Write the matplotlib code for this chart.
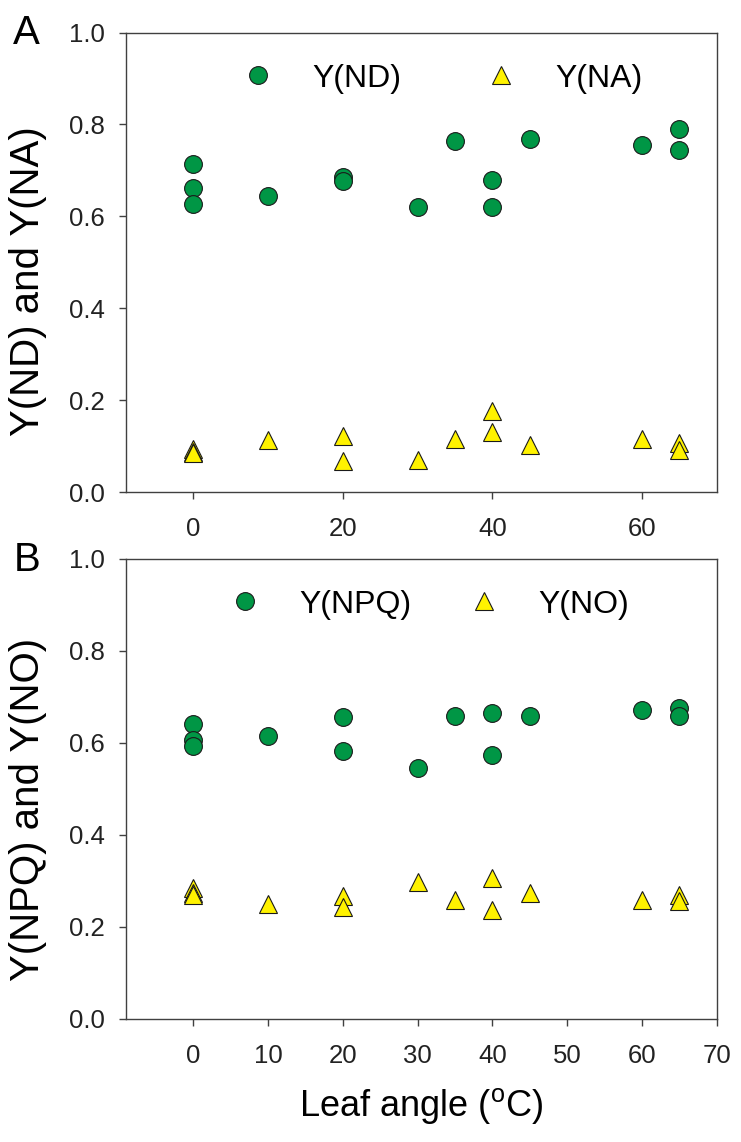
import matplotlib
matplotlib.use("Agg")
import matplotlib.pyplot as plt

plt.rcParams['font.family'] = ['Liberation Sans', 'DejaVu Sans']
plt.rcParams['mathtext.fontset'] = 'custom'
plt.rcParams['mathtext.rm'] = 'Liberation Sans'

angle = [0, 0, 0, 10, 20, 20, 30, 35, 40, 40, 45, 60, 65, 65]

y_nd = [0.714, 0.662, 0.628, 0.644, 0.686, 0.677, 0.620, 0.764, 0.680, 0.620, 0.769, 0.755, 0.791, 0.744]
y_na = [0.094, 0.088, 0.086, 0.114, 0.123, 0.068, 0.069, 0.116, 0.176, 0.132, 0.102, 0.115, 0.107, 0.091]

y_npq = [0.640, 0.606, 0.592, 0.615, 0.655, 0.581, 0.545, 0.657, 0.664, 0.573, 0.659, 0.671, 0.675, 0.658]
y_no = [0.285, 0.273, 0.268, 0.249, 0.266, 0.242, 0.298, 0.258, 0.306, 0.237, 0.273, 0.257, 0.269, 0.255]

green = "#009645"
yellow = "#fff200"
spine = "#404040"

fig = plt.figure(figsize=(7.41, 11.42), dpi=100)
ax1 = fig.add_axes([0.170, 0.569, 0.797, 0.4025])
ax2 = fig.add_axes([0.170, 0.108, 0.797, 0.4028])


def style(ax, xticks):
    ax.set_xlim(-9, 70)
    ax.set_ylim(0, 1.0)
    ax.set_xticks(xticks)
    ax.set_yticks([0, 0.2, 0.4, 0.6, 0.8, 1.0])
    ax.set_yticklabels(["0.0", "0.2", "0.4", "0.6", "0.8", "1.0"])
    for s in ax.spines.values():
        s.set_color(spine)
        s.set_linewidth(1.0)
    ax.tick_params(axis='both', direction='out', length=5, width=1.0,
                   color=spine, labelsize=18.5, labelcolor="#222222")
    ax.tick_params(axis='x', pad=13)
    ax.tick_params(axis='y', pad=10)


ax1.plot(angle, y_nd, 'o', ms=12.8, mfc=green, mec="#1a1a1a", mew=0.8, label="Y(ND)", ls='none')
ax1.plot(angle, y_na, '^', ms=12.8, mfc=yellow, mec="#1a1a1a", mew=0.8, label="Y(NA)", ls='none')
style(ax1, [0, 20, 40, 60])
ax1.set_ylabel("Y(ND) and Y(NA)", fontsize=29)
ax1.yaxis.set_label_coords(-0.134, 0.46)
ax1.legend(loc='center left', bbox_to_anchor=(0.170, 0.900), ncol=2, frameon=False,
           fontsize=23, borderpad=0, handlelength=1.0, handletextpad=1.2,
           columnspacing=2.6, markerscale=1.0)
fig.text(0.036, 0.971, "A", fontsize=29, ha='center', va='center')

ax2.plot(angle, y_npq, 'o', ms=12.8, mfc=green, mec="#1a1a1a", mew=0.8, label="Y(NPQ)", ls='none')
ax2.plot(angle, y_no, '^', ms=12.8, mfc=yellow, mec="#1a1a1a", mew=0.8, label="Y(NO)", ls='none')
style(ax2, [0, 10, 20, 30, 40, 50, 60, 70])
ax2.set_ylabel("Y(NPQ) and Y(NO)", fontsize=29)
ax2.yaxis.set_label_coords(-0.134, 0.455)
ax2.set_xlabel(r"Leaf angle ($^{\rm o}$C)", fontsize=26, labelpad=13)
ax2.legend(loc='center left', bbox_to_anchor=(0.148, 0.900), ncol=2, frameon=False,
           fontsize=23, borderpad=0, handlelength=1.0, handletextpad=1.2,
           columnspacing=1.75, markerscale=1.0)
fig.text(0.036, 0.51, "B", fontsize=29, ha='center', va='center')

plt.savefig("out.png", dpi=100)
